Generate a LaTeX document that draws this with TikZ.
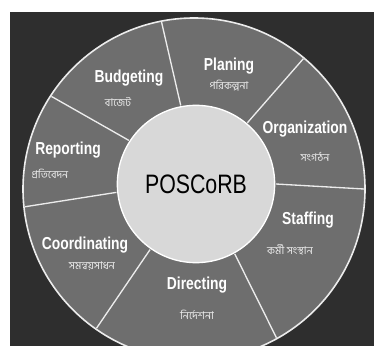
\documentclass[tikz,border=0pt]{standalone}
\usepackage{fontspec}
\setmainfont{Liberation Sans}
\newfontfamily\bnfont[Script=Bengali]{Hind Siliguri}
\usetikzlibrary{calc}
\newcommand{\narrow}[1]{\scalebox{0.8}[1]{#1}}
\definecolor{bgdark}{HTML}{2E2E2E}
\definecolor{ringgray}{HTML}{6E6E6E}
\definecolor{coregray}{HTML}{D8D8D8}
\tikzset{
  seglabel/.style={text=white, font=\fontsize{13}{13}\selectfont\bfseries, inner sep=1pt},
  sublabel/.style={text=white!85!gray, font=\bnfont\fontsize{8}{9}\selectfont, inner sep=1pt},
  divider/.style={draw=white!85!gray, line width=1pt},
}
\begin{document}
\begin{tikzpicture}[x=0.75pt,y=-0.75pt]
\useasboundingbox (0,0) rectangle (375,346);
\fill[white] (0,0) rectangle (375,346);
\fill[bgdark] (10,12) rectangle (374,346);
\begin{scope}
\clip (10,12) rectangle (374,346);
\coordinate (oc) at (194,189);
\fill[ringgray] (oc) circle[radius=171];
\draw[white!85!gray, line width=1.2pt] (oc) circle[radius=171];
\coordinate (ic) at (196,184);
% dividers
\foreach \a in {0,50,101,147,186,235,299}{
  \draw[divider] ($(ic)+(-\a:80)$) -- ($(oc)+(-\a:170)$);
}
\end{scope}
\node[circle, fill=coregray, draw=white, line width=1pt, minimum size=118pt, inner sep=0pt] (core) at (ic) {};
\node[font=\fontsize{20}{20}\selectfont, text=black] (title) at (core.center) {\narrow{POSCoRB}};
% segment labels
\node[seglabel] (plan) at (229,66) {\narrow{Planing}};
\node[sublabel] (plansub) at (229,86) {পরিকল্পনা};
\node[seglabel] (budg) at (129,78) {\narrow{Budgeting}};
\node[sublabel] (budgsub) at (118,102) {বাজেট};
\node[seglabel] (org) at (305,129) {\narrow{Organization}};
\node[sublabel] (orgsub) at (315,157) {সংগঠন};
\node[seglabel] (rep) at (68,150) {\narrow{Reporting}};
\node[sublabel] (repsub) at (50,174) {প্রতিবেদন};
\node[seglabel] (staff) at (308,220) {\narrow{Staffing}};
\node[sublabel] (staffsub) at (290,250) {কর্মী সংস্থান};
\node[seglabel] (coord) at (85,245) {\narrow{Coordinating}};
\node[sublabel] (coordsub) at (92,266) {সমন্বয়সাধন};
\node[seglabel] (dir) at (197,285) {\narrow{Directing}};
\node[sublabel] (dirsub) at (197,315) {নির্দেশনা};
\end{tikzpicture}
\end{document}
